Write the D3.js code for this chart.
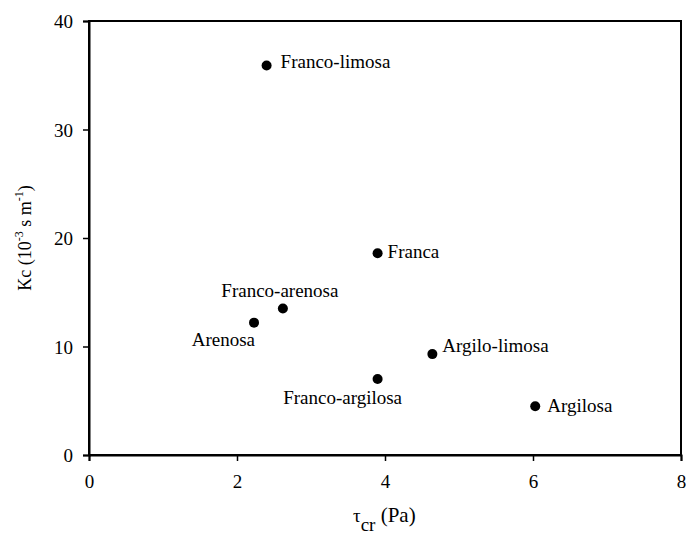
<!DOCTYPE html>
<html>
<head>
<meta charset="utf-8">
<script src="https://cdn.jsdelivr.net/npm/d3@7"></script>
<style>
  html, body { margin: 0; padding: 0; background: #fff; }
  svg { display: block; }
  svg text { font-family: "Liberation Serif", Tinos, "DejaVu Serif", serif !important; }
</style>
</head>
<body>
<svg id="chart" width="686" height="542"></svg>
<script>
// Soil textures with critical shear stress (Pa) and erodibility Kc (10^-3 s m^-1)
const soils = ["Franco-limosa", "Franca", "Franco-arenosa", "Arenosa", "Argilo-limosa", "Franco-argilosa", "Argilosa"];
const tauCr = [2.4, 3.9, 2.62, 2.23, 4.64, 3.9, 6.03];
const kc    = [35.9, 18.6, 13.5, 12.2, 9.3, 7.0, 4.5];
const xTicks = [0, 2, 4, 6, 8];
const yTicks = [0, 10, 20, 30, 40];

// Where each label sits relative to its dot (pixels)
const labelLayout = {
  "Franco-limosa":   { dx: 14,  dy: 3,   anchor: "start" },
  "Franca":          { dx: 10,  dy: 5,   anchor: "start" },
  "Franco-arenosa":  { dx: -3,  dy: -12, anchor: "middle" },
  "Arenosa":         { dx: 1,   dy: 23,  anchor: "end" },
  "Argilo-limosa":   { dx: 10,  dy: -2,  anchor: "start" },
  "Franco-argilosa": { dx: -35, dy: 25,  anchor: "middle" },
  "Argilosa":        { dx: 12,  dy: 6,   anchor: "start" }
};

const FONT = "'Liberation Serif', Tinos, 'DejaVu Serif', serif";
const margin = { top: 21, right: 5, bottom: 87, left: 89 };
const W = 686, H = 542;
const iw = W - margin.left - margin.right;
const ih = H - margin.top - margin.bottom;

const svg = d3.select("#chart").attr("font-family", FONT);
const g = svg.append("g").attr("transform", `translate(${margin.left},${margin.top})`);

const x = d3.scaleLinear().domain([0, 8]).range([0, iw]);
const y = d3.scaleLinear().domain([0, 40]).range([ih, 0]);

// Frame
g.append("rect")
  .attr("x", 0).attr("y", 0).attr("width", iw).attr("height", ih)
  .attr("fill", "none").attr("stroke", "#000").attr("stroke-width", 2);

// Axes
const xAxis = g.append("g")
  .attr("transform", `translate(0,${ih})`)
  .call(d3.axisBottom(x).tickValues(xTicks).tickSize(6).tickPadding(14).tickFormat(d3.format("d")));
const yAxis = g.append("g")
  .call(d3.axisLeft(y).tickValues(yTicks).tickSize(6).tickPadding(10).tickFormat(d3.format("d")));

[xAxis, yAxis].forEach(a => {
  a.attr("font-family", FONT).attr("font-size", 19);
  a.select(".domain").attr("stroke", "#000").attr("stroke-width", 2);
  a.selectAll(".tick line").attr("stroke", "#000").attr("stroke-width", 1.5);
  a.selectAll(".tick text").attr("fill", "#000");
});
yAxis.selectAll(".tick text").attr("dy", "0.35em");

// Points
const rows = soils.map((s, i) => ({ name: s, tau: tauCr[i], kc: kc[i] }));

g.selectAll("circle.pt")
  .data(rows)
  .join("circle")
  .attr("class", "pt")
  .attr("cx", d => x(d.tau))
  .attr("cy", d => y(d.kc))
  .attr("r", 5)
  .attr("fill", "#000");

g.selectAll("text.lbl")
  .data(rows)
  .join("text")
  .attr("class", "lbl")
  .attr("x", d => x(d.tau) + labelLayout[d.name].dx)
  .attr("y", d => y(d.kc) + labelLayout[d.name].dy)
  .attr("text-anchor", d => labelLayout[d.name].anchor)
  .attr("font-size", 19)
  .attr("fill", "#000")
  .text(d => d.name);

// Y axis title: Kc (10^-3 s m^-1)
const yTitle = svg.append("text")
  .attr("transform", "translate(31,238) rotate(-90)")
  .attr("text-anchor", "middle")
  .attr("font-size", 18)
  .attr("fill", "#000");
yTitle.append("tspan").text("Kc (10");
yTitle.append("tspan").attr("font-size", 12).attr("dy", -8).text("-3");
yTitle.append("tspan").attr("dy", 8).text(" s m");
yTitle.append("tspan").attr("font-size", 12).attr("dy", -8).text("-1");
yTitle.append("tspan").attr("dy", 8).text(")");

// X axis title: τcr (Pa)
const xTitle = svg.append("text")
  .attr("x", 353).attr("y", 522)
  .attr("text-anchor", "start")
  .attr("font-size", 19)
  .attr("fill", "#000");
xTitle.append("tspan").text("τ");
xTitle.append("tspan").attr("dy", 9).text("cr");
xTitle.append("tspan").attr("dy", -9).style("font-size", "21px").text(" (Pa)");
</script>
</body>
</html>
